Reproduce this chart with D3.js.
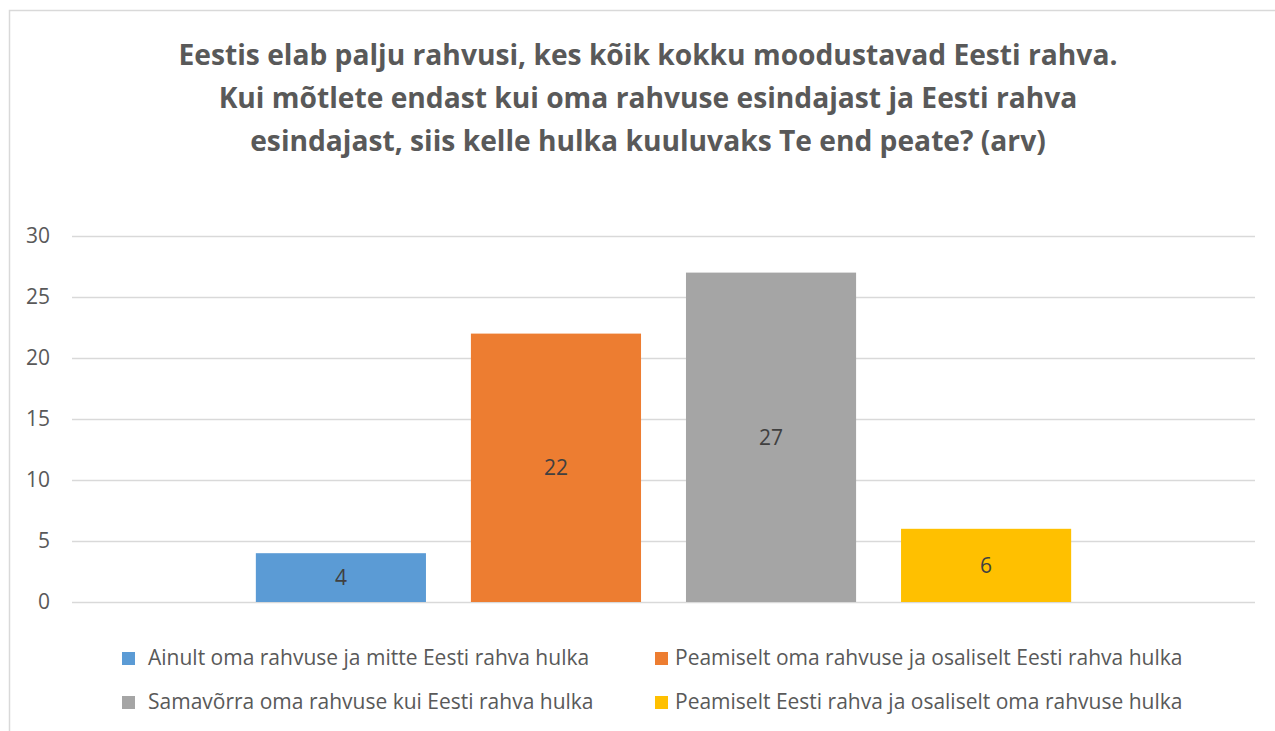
<!DOCTYPE html>
<html>
<head>
<meta charset="utf-8">
<script src="https://cdn.jsdelivr.net/npm/d3@7"></script>
<style>
  body { margin: 0; background: #fff; }
  text { font-family: "Open Sans", "Noto Sans", sans-serif; }
</style>
</head>
<body>
<div id="chart"></div>
<script>
const titleLines = [
  "Eestis elab palju rahvusi, kes kõik kokku moodustavad Eesti rahva.",
  "Kui mõtlete endast kui oma rahvuse esindajast ja Eesti rahva",
  "esindajast, siis kelle hulka kuuluvaks Te end peate? (arv)"
]
const categories = [""]
const seriesNames = [
  "Ainult oma rahvuse ja mitte Eesti rahva hulka",
  "Peamiselt oma rahvuse ja osaliselt Eesti rahva hulka",
  "Samavõrra oma rahvuse kui Eesti rahva hulka",
  "Peamiselt Eesti rahva ja osaliselt oma rahvuse hulka"
]
const seriesValues = [4, 22, 27, 6]
const seriesColors = ["#5B9BD5", "#ED7D31", "#A5A5A5", "#FFC000"]
const yTicks = [0, 5, 10, 15, 20, 25, 30]

const canvas = { width: 1275, height: 731, margin: { top: 236, right: 20, bottom: 129, left: 72 } }

const svg = d3.select("#chart").append("svg")
  .attr("width", canvas.width).attr("height", canvas.height)

// chart border
svg.append("rect").attr("x", 9.5).attr("y", 10.5).attr("width", 1300).attr("height", 800)
  .attr("fill", "none").attr("stroke", "#D9D9D9").attr("stroke-width", 1.5)

const x0 = d3.scaleBand().domain(categories)
  .range([canvas.margin.left, canvas.width - canvas.margin.right])
  .paddingInner(0.184).paddingOuter(0.184)
const x1 = d3.scaleBand().domain(seriesNames)
  .range([0, x0.bandwidth()]).paddingInner(0.209)
const y = d3.scaleLinear().domain([0, 30])
  .range([canvas.height - canvas.margin.bottom, canvas.margin.top])

// title
svg.append("g").selectAll("text").data(titleLines).enter().append("text")
  .attr("x", 648).attr("y", (d, i) => 65 + i * 43)
  .attr("text-anchor", "middle").attr("font-size", "28.2px").attr("font-weight", "bold")
  .attr("fill", "#595959").text(d => d)

// gridlines
const yAxis = svg.append("g").attr("transform", `translate(${canvas.margin.left},0)`)
  .call(d3.axisLeft(y).tickValues(yTicks)
    .tickSize(-(canvas.width - canvas.margin.left - canvas.margin.right)).tickPadding(22))
yAxis.select(".domain").remove()
yAxis.selectAll(".tick line").attr("stroke", "#D9D9D9").attr("stroke-width", 1.5)
yAxis.selectAll(".tick text").attr("font-size", "21px").attr("fill", "#595959")
  .attr("font-family", "'Open Sans', sans-serif")

// bars
const bars = svg.append("g").attr("transform", `translate(${x0(categories[0])},0)`)
bars.selectAll("rect").data(seriesNames).enter().append("rect")
  .attr("x", d => x1(d)).attr("width", x1.bandwidth())
  .attr("y", (d, i) => y(seriesValues[i]))
  .attr("height", (d, i) => y(0) - y(seriesValues[i]))
  .attr("fill", (d, i) => seriesColors[i])

bars.selectAll("text").data(seriesNames).enter().append("text")
  .attr("x", d => x1(d) + x1.bandwidth() / 2)
  .attr("y", (d, i) => (y(0) + y(seriesValues[i])) / 2)
  .attr("dy", "0.35em").attr("text-anchor", "middle")
  .attr("font-size", "21px").attr("fill", "#404040")
  .text((d, i) => seriesValues[i])

// legend: [square x, row y, text offset]
const legendPos = [[122, 658, 26], [655, 658, 20], [122, 702, 26], [655, 702, 20]]
const lg = svg.append("g").selectAll("g").data(seriesNames).enter().append("g")
  .attr("transform", (d, i) => `translate(${legendPos[i][0]},${legendPos[i][1]})`)
lg.append("rect").attr("x", 0).attr("y", -6).attr("width", 13).attr("height", 13)
  .attr("fill", (d, i) => seriesColors[i])
lg.append("text").attr("x", (d, i) => legendPos[i][2]).attr("y", 0).attr("dy", "0.35em")
  .attr("font-size", "21px").attr("fill", "#595959").text(d => d)
</script>
</body>
</html>
